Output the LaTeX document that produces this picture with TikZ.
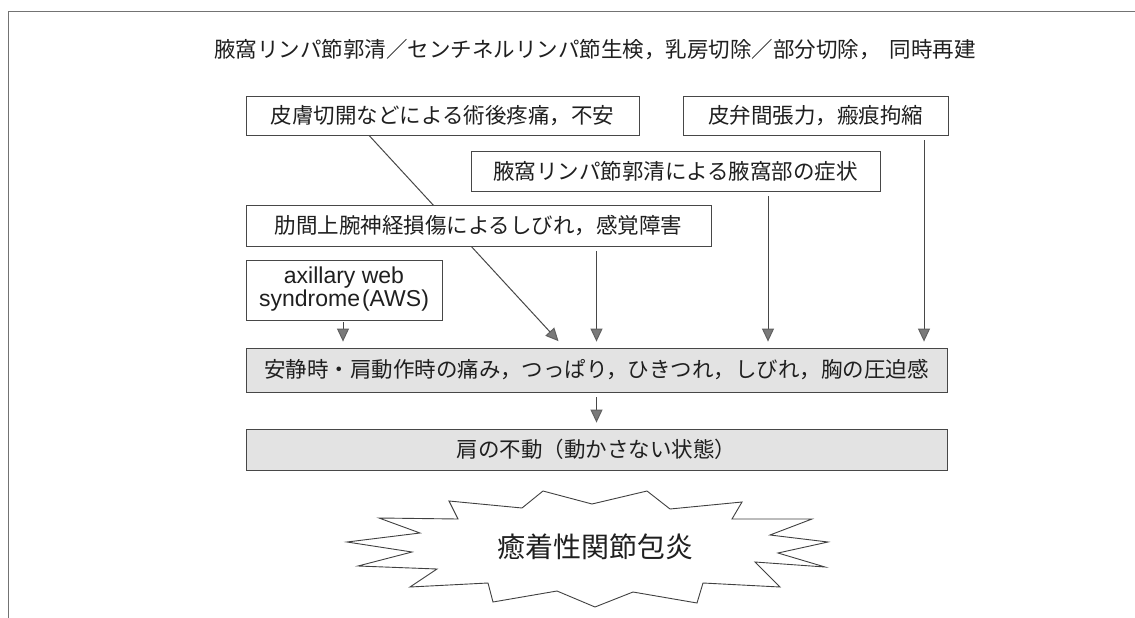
\documentclass[tikz,border=0pt]{standalone}
\usepackage{fontspec}
\setmainfont{Noto Sans CJK JP}
\newfontfamily\latinfont{Liberation Sans}
\usetikzlibrary{arrows.meta,calc}
\pgfdeclarelayer{bg}
\pgfsetlayers{bg,main}
\begin{document}
\begin{tikzpicture}[x=1pt,y=-1pt,
  box/.style={draw=black!72, line width=0.8pt, fill=white, inner sep=0pt,
    text=black!88, font=\fontsize{21.5}{24}\selectfont},
  shadedbox/.style={box, fill=black!11},
  arr/.style={draw=black!72, line width=1pt,
    -{Triangle[length=13pt,width=12pt,color=black!62,fill=black!52]},
    shorten >=6pt, shorten <=5pt},
  frameline/.style={draw=black!55, line width=1pt},
  burst/.style={draw=black!75, line width=0.9pt, fill=white},
  ]
\useasboundingbox (0,0) rectangle (1135,618);
\draw[frameline] (1135,12) -- (8,12) -- (8,618);

\node[text=black!88, font=\fontsize{21.5}{24}\selectfont] (title) at (595,50)
  {腋窩リンパ節郭清／センチネルリンパ節生検，乳房切除／部分切除，\hspace{0.4em}同時再建};

\node[box, minimum width=393pt, minimum height=39pt] (b1) at (442.5,115.5) {皮膚切開などによる術後疼痛，不安};
\node[box, minimum width=265pt, minimum height=39pt] (b2) at (815.5,115.5) {皮弁間張力，瘢痕拘縮};
\node[box, minimum width=409pt, minimum height=40pt] (b3) at (675.5,171) {腋窩リンパ節郭清による腋窩部の症状};
\node[box, minimum width=465pt, minimum height=41pt] (b4) at (478.5,225.5) {肋間上腕神経損傷によるしびれ，感覚障害};
\node[box, minimum width=196pt, minimum height=60pt,
  font=\fontsize{23}{24}\latinfont] (b5) at (344,290)
  {\begin{tabular}{@{}c@{}}axillary web\\[-1pt]syndrome\hspace{2pt}(AWS)\end{tabular}};
\node[shadedbox, minimum width=701pt, minimum height=44pt] (b6) at (596.5,370)
  {安静時・肩動作時の痛み，つっぱり，ひきつれ，しびれ，胸の圧迫感};
\node[shadedbox, minimum width=701pt, minimum height=41pt] (b7) at (596.5,449.5)
  {肩の不動（動かさない状態）};

% starburst
\draw[burst] (347,542) -- (420,533) -- (379,518) -- (458,519) -- (449,501)
  -- (522,508) -- (543,491) -- (592,504) -- (647,491) -- (670,509)
  -- (742,502) -- (732,519) -- (812,519) -- (770,535) -- (828,542)
  -- (778,553) -- (825,567) -- (755,562) -- (780,587) -- (703,583)
  -- (697,603) -- (633,592) -- (595,607) -- (557,591) -- (493,602)
  -- (488,583) -- (410,587) -- (437,569) -- (358,566) -- (412,552) -- cycle;
\node[text=black!88, font=\fontsize{28}{30}\selectfont] (res) at (595,547) {癒着性関節包炎};

% connectors
\coordinate (d0) at ($(b1.south west)+(117,-7)$);
\coordinate (d1) at ($(b6.north west)+(317,-2)$);
\begin{pgfonlayer}{bg}
\draw[arr, shorten <=0pt] (d0) -- (d1);
\end{pgfonlayer}
\draw[arr] (b6.north |- b4.south) -- (b6.north);
\draw[arr] ([xshift=92.5pt]b3.south) -- ([xshift=92.5pt]b3.south |- b6.north);
\draw[arr] ([xshift=108.5pt]b2.south) -- ([xshift=108.5pt]b2.south |- b6.north);
\draw[arr, shorten <=2pt] ([xshift=-1pt]b5.south) -- ([xshift=-1pt]b5.south |- b6.north);
\draw[arr] (b6.south) -- (b7.north);
\end{tikzpicture}
\end{document}
